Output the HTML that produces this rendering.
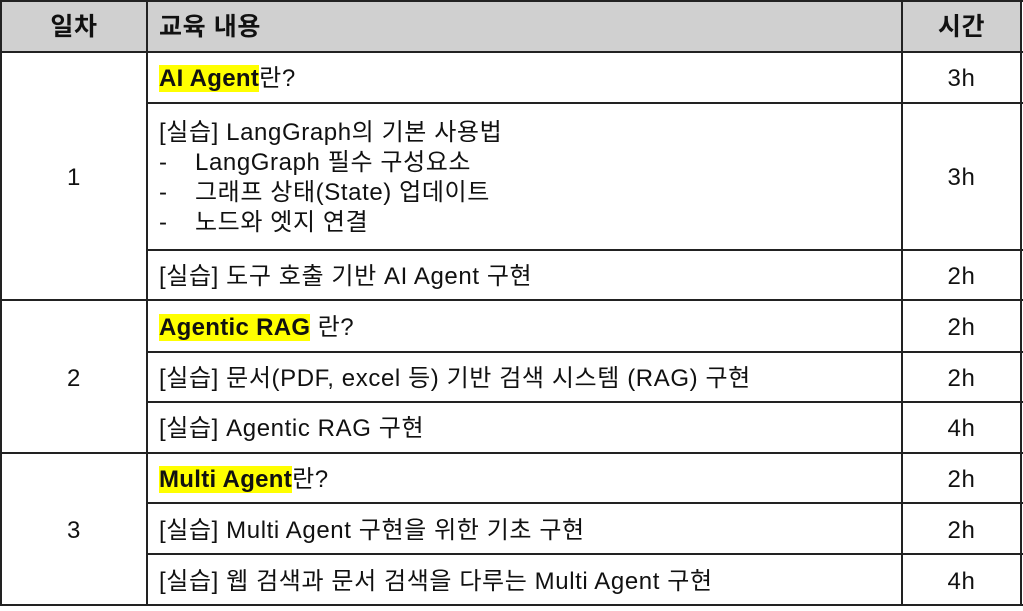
<!DOCTYPE html>
<html><head><meta charset="utf-8"><style>
body{margin:0;width:1023px;height:611px;background:#fff;position:relative;overflow:hidden;font-family:"Liberation Sans","Noto Sans CJK KR",sans-serif;color:#111}
.h{position:absolute;height:2px;background:#222}
.v{position:absolute;width:2px;background:#222}
.t{position:absolute;font-size:24px;letter-spacing:0.6px;white-space:nowrap;line-height:30px}
.c{text-align:center}
.b{font-weight:bold;font-size:25px}
.hl{background:#ffff00;font-weight:bold;letter-spacing:0.3px}
.d{display:inline-block;width:36px}
</style></head><body>
<div style="position:absolute;left:0;top:0;width:1022px;height:52px;background:#d0d0d0"></div>
<div class="h" style="left:0;top:0;width:1023px"></div>
<div class="h" style="left:0;top:51px;width:1023px"></div>
<div class="h" style="left:147px;top:102px;width:876px"></div>
<div class="h" style="left:147px;top:249px;width:876px"></div>
<div class="h" style="left:0;top:299px;width:1023px"></div>
<div class="h" style="left:147px;top:351px;width:876px"></div>
<div class="h" style="left:147px;top:401px;width:876px"></div>
<div class="h" style="left:0;top:452px;width:1023px"></div>
<div class="h" style="left:147px;top:502px;width:876px"></div>
<div class="h" style="left:147px;top:553px;width:876px"></div>
<div class="h" style="left:0;top:604px;width:1023px"></div>
<div class="v" style="left:0;top:0;height:606px"></div>
<div class="v" style="left:146px;top:0;height:606px"></div>
<div class="v" style="left:901px;top:0;height:606px"></div>
<div class="v" style="left:1020px;top:0;height:606px"></div>

<div class="t c b" style="left:2px;width:144px;top:12px">일차</div>
<div class="t b" style="left:159px;top:12px">교육 내용</div>
<div class="t c b" style="left:903px;width:117px;top:12px">시간</div>

<div class="t c" style="left:2px;width:144px;top:163px">1</div>
<div class="t c" style="left:2px;width:144px;top:364px">2</div>
<div class="t c" style="left:2px;width:144px;top:516px">3</div>

<div class="t" style="left:159px;top:64px"><span class="hl">AI Agent</span>란?</div>
<div class="t" style="left:159px;top:118px">[실습] LangGraph의 기본 사용법</div>
<div class="t" style="left:159px;top:148px"><span class="d">-</span>LangGraph 필수 구성요소</div>
<div class="t" style="left:159px;top:178px"><span class="d">-</span>그래프 상태(State) 업데이트</div>
<div class="t" style="left:159px;top:208px"><span class="d">-</span>노드와 엣지 연결</div>
<div class="t" style="left:159px;top:262px">[실습] 도구 호출 기반 AI Agent 구현</div>
<div class="t" style="left:159px;top:313px"><span class="hl">Agentic RAG</span> 란?</div>
<div class="t" style="left:159px;top:364px">[실습] 문서(PDF, excel 등) 기반 검색 시스템 (RAG) 구현</div>
<div class="t" style="left:159px;top:414px">[실습] Agentic RAG 구현</div>
<div class="t" style="left:159px;top:465px"><span class="hl">Multi Agent</span>란?</div>
<div class="t" style="left:159px;top:516px">[실습] Multi Agent 구현을 위한 기초 구현</div>
<div class="t" style="left:159px;top:567px">[실습] 웹 검색과 문서 검색을 다루는 Multi Agent 구현</div>

<div class="t c" style="left:903px;width:117px;top:64px">3h</div>
<div class="t c" style="left:903px;width:117px;top:163px">3h</div>
<div class="t c" style="left:903px;width:117px;top:262px">2h</div>
<div class="t c" style="left:903px;width:117px;top:313px">2h</div>
<div class="t c" style="left:903px;width:117px;top:364px">2h</div>
<div class="t c" style="left:903px;width:117px;top:414px">4h</div>
<div class="t c" style="left:903px;width:117px;top:465px">2h</div>
<div class="t c" style="left:903px;width:117px;top:516px">2h</div>
<div class="t c" style="left:903px;width:117px;top:567px">4h</div>
</body></html>
